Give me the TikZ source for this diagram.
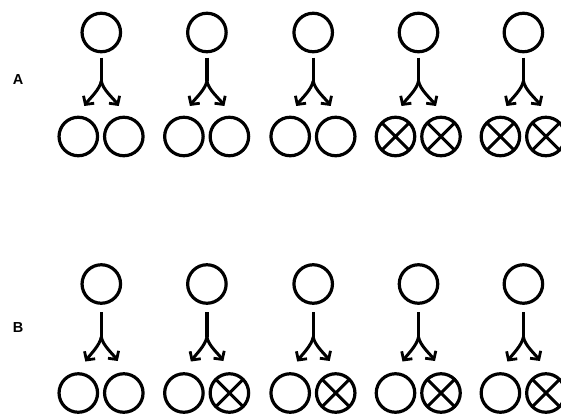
\documentclass[tikz,border=0pt]{standalone}
\usepackage{fontspec}
\setmainfont{Liberation Sans}
\usetikzlibrary{arrows.meta}
\begin{document}
\begin{tikzpicture}[x=1pt,y=1pt,
  cell/.style={circle,draw,line width=3.2pt,minimum size=38.5pt,inner sep=0pt,outer sep=0pt},
  crossline/.style={line width=3pt},
  stem/.style={line width=3.2pt},
  branch/.style={line width=3pt,looseness=0.75,-{Straight Barb[length=6pt,width=13pt,line width=2.8pt]}},
  lbl/.style={font=\bfseries\fontsize{14.5}{16}\selectfont}]
\clip (0,0) rectangle (561,-414);
% labels
\node[lbl] (labA) at (18,-79.5) {A};
\node[lbl] (labB) at (18,-328) {B};
% row A
\foreach \i/\cx in {1/101.3,2/206.9,3/313.2,4/418.5,5/523.4}{
  \node[cell] (AT\i) at (\cx,-32.5) {};
  \node[cell] (AL\i) at (\cx-23,-136.5) {};
  \node[cell] (AR\i) at (\cx+22.5,-136.5) {};
  \coordinate (AK\i) at (\cx,-81);
  \coordinate (AtL\i) at (\cx-17,-106);
  \coordinate (AtR\i) at (\cx+17.5,-106);
  \draw[stem] ([yshift=-6pt]AT\i.south) -- (AK\i);
  \draw[branch] (AK\i) to[out=-100,in=55] (AtL\i);
  \draw[branch] (AK\i) to[out=-80,in=125] (AtR\i);
}
\foreach \n in {AL4,AR4,AL5,AR5}{
  \draw[crossline] (\n.45) -- (\n.225) (\n.135) -- (\n.-45);
}
% row B
\foreach \i/\cx in {1/101.3,2/206.9,3/313.2,4/418.5,5/523.4}{
  \node[cell] (BT\i) at (\cx,-284) {};
  \node[cell] (BL\i) at (\cx-23,-393) {};
  \node[cell] (BR\i) at (\cx+22.5,-393) {};
  \coordinate (BK\i) at (\cx,-337);
  \coordinate (BtL\i) at (\cx-16,-361.5);
  \coordinate (BtR\i) at (\cx+16.5,-361);
  \draw[stem] ([yshift=-9pt]BT\i.south) -- (BK\i);
  \draw[branch] (BK\i) to[out=-100,in=55] (BtL\i);
  \draw[branch] (BK\i) to[out=-80,in=125] (BtR\i);
}
\foreach \n in {BR2,BR3,BR4,BR5}{
  \draw[crossline] (\n.45) -- (\n.225) (\n.135) -- (\n.-45);
}
\end{tikzpicture}
\end{document}
